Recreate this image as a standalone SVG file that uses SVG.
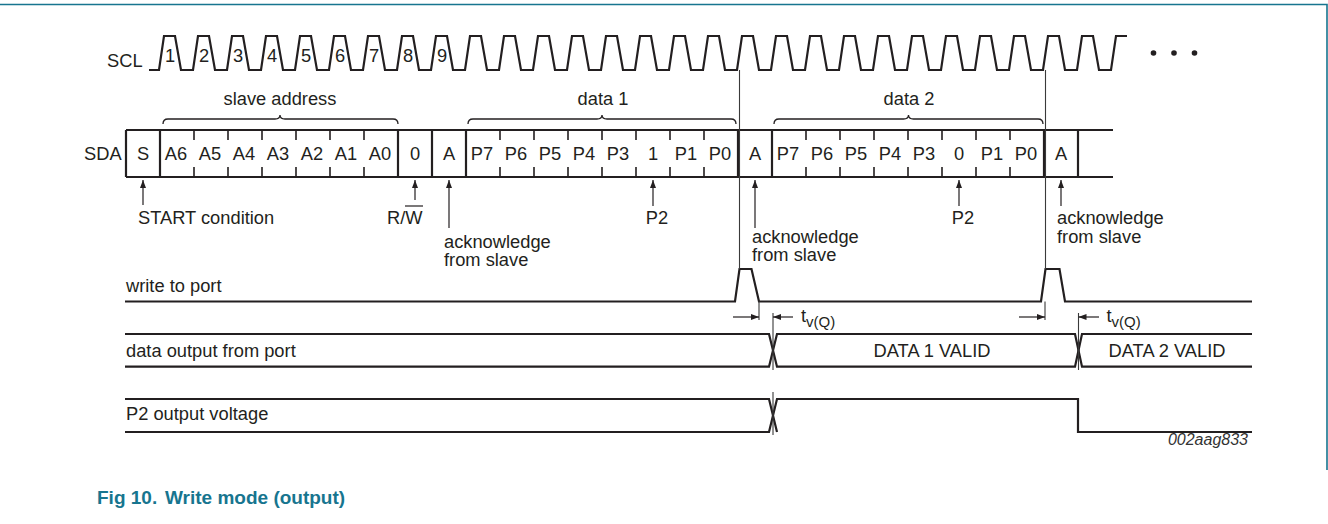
<svg xmlns="http://www.w3.org/2000/svg" width="1328" height="524" viewBox="0 0 1328 524">
<defs>
<style>
text{font-family:"Liberation Sans",Arial,sans-serif;font-size:18.3px;fill:#231f20}
text.title{font-size:19px;font-weight:bold;fill:#17758f}
text.code{font-size:16px;font-style:italic;fill:#333;text-anchor:end}
.c{text-anchor:middle}
.wave{fill:none;stroke:#231f20;stroke-width:2.2;stroke-linejoin:miter}
.box{fill:none;stroke:#231f20;stroke-width:2.2}
.tick{stroke:#231f20;stroke-width:1.6}
.brace{fill:none;stroke:#231f20;stroke-width:1.3}
.thin{stroke:#3a3a3a;stroke-width:1.1;fill:none}
.arr{stroke:#231f20;stroke-width:1.2;fill:none;marker-end:url(#ah)}
.sub{font-size:15px}
</style>
<marker id="ah" viewBox="0 0 8 6" refX="8" refY="3" markerWidth="8" markerHeight="6" markerUnits="userSpaceOnUse" orient="auto">
<path d="M0,0 L8,3 L0,6 z" fill="#231f20"/>
</marker>
</defs>
<rect width="1328" height="524" fill="#fff"/>
<g id="frame" fill="none" stroke="#17758f" stroke-width="1.6">
<path d="M0,4.5 H1327 V470"/>
</g>
<g id="scl">
<text x="107" y="66.5">SCL</text>
<path class="wave" d="M149,70 H159
l5,-34 h11 l6,34 h12 l5,-34 h11 l6,34 h12 l5,-34 h11 l6,34 h12 l5,-34 h11 l6,34 h12
l5,-34 h11 l6,34 h12 l5,-34 h11 l6,34 h12 l5,-34 h11 l6,34 h12 l5,-34 h11 l6,34 h12
l5,-34 h11 l6,34 h12 l5,-34 h11 l6,34 h12 l5,-34 h11 l6,34 h12 l5,-34 h11 l6,34 h12
l5,-34 h11 l6,34 h12 l5,-34 h11 l6,34 h12 l5,-34 h11 l6,34 h12 l5,-34 h11 l6,34 h12
l5,-34 h11 l6,34 h12 l5,-34 h11 l6,34 h12 l5,-34 h11 l6,34 h12 l5,-34 h11 l6,34 h12
l5,-34 h11 l6,34 h12 l5,-34 h11 l6,34 h12 l5,-34 h11 l6,34 h12 l5,-34 h11 l6,34 h12
l5,-34 h11 l6,34 h12 l5,-34 h11 l6,34 h12 l5,-34 h11 l6,34 h12 l5,-34 h11 l6,34 h12
l5,-34 H1127"/>
<g class="c">
<text x="170" y="61.5">1</text><text x="204" y="61.5">2</text><text x="238" y="61.5">3</text><text x="272" y="61.5">4</text><text x="306" y="61.5">5</text><text x="340" y="61.5">6</text><text x="374" y="61.5">7</text><text x="408" y="61.5">8</text><text x="442" y="61.5">9</text>
</g>
<g fill="#231f20"><circle cx="1153.5" cy="53" r="2.8"/><circle cx="1174" cy="53" r="2.8"/><circle cx="1194.5" cy="53" r="2.8"/></g>
</g>
<g id="braces">
<path class="brace" d="M163,124 Q163,119 168,119 H275 Q280,119 280,115 Q280,119 285,119 H393 Q398,119 398,124"/>
<text class="c" x="280" y="105">slave address</text>
<path class="brace" d="M468,124 Q468,119 473,119 H597 Q602,119 602,115 Q602,119 607,119 H731 Q736,119 736,124"/>
<text class="c" x="603" y="105">data 1</text>
<path class="brace" d="M774,124 Q774,119 779,119 H903.5 Q908.5,119 908.5,115 Q908.5,119 913.5,119 H1038 Q1043,119 1043,124"/>
<text class="c" x="909" y="105">data 2</text>
</g>
<g id="sda">
<text x="84" y="160">SDA</text>
<path class="box" d="M126,130 H1113 M126,177 H1113 M126,130 V177 M160,130 V177 M398,130 V177 M432,130 V177 M466,130 V177 M738,130 V177 M772,130 V177 M1044,130 V177 M1078,130 V177"/>
<path class="tick" d="M194,130v10M228,130v10M262,130v10M296,130v10M330,130v10M364,130v10M500,130v10M534,130v10M568,130v10M602,130v10M636,130v10M670,130v10M704,130v10M806,130v10M840,130v10M874,130v10M908,130v10M942,130v10M976,130v10M1010,130v10
M194,167v10M228,167v10M262,167v10M296,167v10M330,167v10M364,167v10M500,167v10M534,167v10M568,167v10M602,167v10M636,167v10M670,167v10M704,167v10M806,167v10M840,167v10M874,167v10M908,167v10M942,167v10M976,167v10M1010,167v10"/>
<g class="c">
<text x="143" y="160">S</text>
<text x="176" y="160">A6</text><text x="210" y="160">A5</text><text x="244" y="160">A4</text><text x="278" y="160">A3</text><text x="312" y="160">A2</text><text x="346" y="160">A1</text><text x="380" y="160">A0</text>
<text x="415" y="160">0</text><text x="449" y="160">A</text>
<text x="482" y="160">P7</text><text x="516" y="160">P6</text><text x="550" y="160">P5</text><text x="584" y="160">P4</text><text x="618" y="160">P3</text><text x="653" y="160">1</text><text x="686" y="160">P1</text><text x="720" y="160">P0</text>
<text x="755" y="160">A</text>
<text x="788" y="160">P7</text><text x="822" y="160">P6</text><text x="856" y="160">P5</text><text x="890" y="160">P4</text><text x="924" y="160">P3</text><text x="959" y="160">0</text><text x="992" y="160">P1</text><text x="1026" y="160">P0</text>
<text x="1061" y="160">A</text>
</g>
</g>
<g id="annotations">
<text x="138" y="224">START condition</text>
<text x="387" y="224">R/W</text>
<line x1="405" y1="206" x2="423" y2="206" stroke="#231f20" stroke-width="1.2"/>
<text x="444" y="248">acknowledge</text><text x="444" y="266">from slave</text>
<text class="c" x="657" y="224">P2</text>
<text x="752" y="242.5">acknowledge</text><text x="752" y="260.5">from slave</text>
<text class="c" x="963" y="224">P2</text>
<text x="1057" y="224">acknowledge</text><text x="1057" y="242.5">from slave</text>
</g>
<g id="write-to-port">
<text x="126" y="292">write to port</text>
<path class="wave" d="M125,301.5 H735 L739.5,269 H751.5 L759,301.5 H1041 L1045.5,269 H1059.5 L1065,301.5 H1252"/>
</g>
<g id="data-output">
<text x="126" y="357">data output from port</text>
<path class="wave" d="M125,334 H769 L777,366.7 H1075 L1082,334 H1252"/>
<path class="wave" d="M125,366.7 H769 L777,334 H1075 L1082,366.7 H1252"/>
<text class="c" x="932" y="357">DATA 1 VALID</text>
<text class="c" x="1167" y="357">DATA 2 VALID</text>
</g>
<g id="p2-output">
<text x="126" y="420">P2 output voltage</text>
<path class="wave" d="M125,399 H769 L777,432"/>
<path class="wave" d="M125,432 H769 L777,399 H1078 V432 H1252"/>
</g>
<g id="connectors">
<line class="arr" x1="143" y1="205" x2="143" y2="180"/>
<line class="arr" x1="415" y1="200" x2="415" y2="180"/>
<line class="arr" x1="449" y1="228" x2="449" y2="180"/>
<line class="arr" x1="653" y1="206" x2="653" y2="180"/>
<line class="arr" x1="755" y1="228" x2="755" y2="180"/>
<line class="arr" x1="959" y1="206" x2="959" y2="180"/>
<line class="arr" x1="1061" y1="206" x2="1061" y2="180"/>
<path class="thin" d="M739.5,70 V269 M1045.5,70 V269 M759,301.5 V320 M1045,301.5 V320 M773,313 V370 M773,392 V435 M1078.5,313 V370"/>
<line class="arr" x1="733" y1="317" x2="759" y2="317"/>
<line class="arr" x1="793" y1="317" x2="773" y2="317"/>
<line class="arr" x1="1019" y1="317" x2="1045" y2="317"/>
<line class="arr" x1="1099" y1="317" x2="1078.5" y2="317"/>
</g>
<g id="timing-labels">
<text x="801" y="322">t<tspan class="sub" dy="5">v(Q)</tspan></text>
<text x="1106.5" y="322">t<tspan class="sub" dy="5">v(Q)</tspan></text>
</g>
<text class="code" x="1248" y="445">002aag833</text>
<g id="title">
<text class="title" x="97" y="503.5">Fig 10.</text>
<text class="title" x="165" y="503.5">Write mode (output)</text>
</g>
</svg>
